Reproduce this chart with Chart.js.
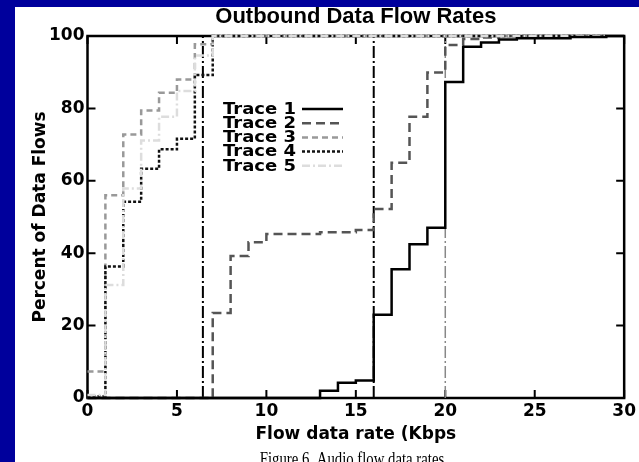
<!DOCTYPE html>
<html><head><meta charset="utf-8">
<script src="https://cdn.jsdelivr.net/npm/chart.js@4"></script>
<style>
html,body{margin:0;padding:0;background:#fff;overflow:hidden;}
canvas{display:block;}
</style></head><body>
<canvas id="c" width="639" height="462"></canvas>
<script>
// ---- text ----
const chartTitle = 'Outbound Data Flow Rates';
const xAxisTitle = 'Flow data rate (Kbps';
const yAxisTitle = 'Percent of Data Flows';
const captionText = 'Figure 6. Audio flow data rates';
const seriesNames = ['Trace 1', 'Trace 2', 'Trace 3', 'Trace 4', 'Trace 5'];

// ---- data (flow rate in Kbps, cumulative percent) ----
const trace1X = [0, 13, 14, 15, 16, 17, 18, 19, 20, 21, 22, 23, 24, 27, 29, 30];
const trace1Y = [0, 2, 4.2, 4.8, 23, 35.6, 42.5, 47, 87.3, 97, 98.2, 99, 99.4, 99.7, 100, 100];
const trace2X = [0, 7, 8, 9, 10, 13, 15, 16, 17, 18, 19, 20, 21, 22, 23, 29];
const trace2Y = [0, 23.5, 39.2, 43, 45.3, 45.8, 46.4, 52.2, 65, 77.7, 89.9, 97.5, 99.2, 99.6, 100, 100];
const trace3X = [0, 1, 2, 3, 4, 5, 6, 7, 29];
const trace3Y = [7.3, 56, 72.8, 79.4, 84.3, 88, 97.7, 100, 100];
const trace4X = [0, 1, 2, 3, 4, 5, 6, 7, 29];
const trace4Y = [0.5, 36.3, 54.2, 63.3, 68.7, 71.6, 89.2, 100, 100];
const trace5X = [0, 1, 2, 3, 4, 5, 6, 7, 29];
const trace5Y = [0.8, 31.2, 57.9, 71.1, 77.7, 84.8, 94.6, 100, 100];
// vertical reference lines across the full range
const refLineX = [6.45, 16, 20];
const refLineSpan = [0, 100];

// ---- ticks ----
const xTickValues = [0, 5, 10, 15, 20, 25, 30];
const yTickValues = [0, 20, 40, 60, 80, 100];

// ---- styles ----
const seriesColors = ['#000000', '#555555', '#999999', '#111111', '#dddddd'];
const seriesDashes = [[], [9, 5], [6, 4], [3, 2], [8, 3, 2, 3]];
const refColors = ['#000000', '#000000', '#888888'];
const refWidths = [2, 2, 1.5];
const BLUE = '#00009c';

const xs = [trace1X, trace2X, trace3X, trace4X, trace5X];
const ys = [trace1Y, trace2Y, trace3Y, trace4Y, trace5Y];
const orders = [1, 5, 4, 3, 2];

const datasets = seriesNames.map((name, i) => ({
  label: name,
  data: xs[i].map((x, k) => ({x: x, y: ys[i][k]})),
  borderColor: seriesColors[i],
  borderDash: seriesDashes[i],
  borderWidth: 2.5,
  stepped: true,
  pointRadius: 0,
  fill: false,
  clip: false,
  order: orders[i]
}));
refLineX.forEach((v, i) => {
  datasets.push({
    label: 'ref' + i,
    data: refLineSpan.map(y => ({x: v, y: y})),
    borderColor: refColors[i],
    borderDash: [12, 3, 2, 3],
    borderWidth: refWidths[i],
    pointRadius: 0,
    fill: false,
    clip: false,
    order: 6 + i
  });
});

const TICK_FONT = {family: '"DejaVu Sans"', size: 17, weight: 'bold'};

const framePlugin = {
  id: 'frame',
  beforeDraw(chart) {
    const ctx = chart.ctx;
    ctx.save();
    ctx.fillStyle = '#ffffff';
    ctx.fillRect(0, 0, chart.width, chart.height);
    ctx.fillStyle = BLUE;
    ctx.fillRect(0, 0, chart.width, 7);
    ctx.fillRect(0, 0, 15, chart.height);
    ctx.restore();
  },
  beforeDatasetsDraw(chart) {
    const ctx = chart.ctx;
    const a = chart.chartArea;
    const xS = chart.scales.x, yS = chart.scales.y;
    ctx.save();
    ctx.strokeStyle = '#000';
    ctx.lineWidth = 2.5;
    ctx.strokeRect(a.left, a.top, a.right - a.left, a.bottom - a.top);
    ctx.lineWidth = 2;
    const L = 8;
    ctx.beginPath();
    xS.ticks.forEach(t => {
      const px = xS.getPixelForValue(t.value);
      ctx.moveTo(px, a.bottom); ctx.lineTo(px, a.bottom - L);
      ctx.moveTo(px, a.top); ctx.lineTo(px, a.top + L);
    });
    yS.ticks.forEach(t => {
      const py = yS.getPixelForValue(t.value);
      ctx.moveTo(a.left, py); ctx.lineTo(a.left + L, py);
      ctx.moveTo(a.right, py); ctx.lineTo(a.right - L, py);
    });
    ctx.stroke();
    ctx.restore();
  },
  afterDraw(chart) {
    const ctx = chart.ctx;
    ctx.save();
    // legend inside plot
    const textRight = 296, lineX0 = 302, lineX1 = 343, row0 = 109, rowStep = 14.2;
    seriesNames.forEach((name, i) => {
      const y = row0 + i * rowStep;
      ctx.save();
      ctx.translate(textRight, y);
      ctx.scale(1.2, 1);
      ctx.font = 'bold 15px "DejaVu Sans"';
      ctx.fillStyle = '#000';
      ctx.textAlign = 'right';
      ctx.textBaseline = 'middle';
      ctx.fillText(name, 0, 1);
      ctx.restore();
      ctx.beginPath();
      ctx.setLineDash(seriesDashes[i]);
      ctx.strokeStyle = seriesColors[i];
      ctx.lineWidth = 2.5;
      ctx.moveTo(lineX0, y); ctx.lineTo(lineX1, y);
      ctx.stroke();
      ctx.setLineDash([]);
    });
    // caption (cut off by the bottom edge, as in the reference)
    ctx.save();
    ctx.translate(352, 465);
    ctx.scale(0.82, 1);
    ctx.font = '18px "Liberation Serif"';
    ctx.fillStyle = '#000';
    ctx.textAlign = 'center';
    ctx.textBaseline = 'alphabetic';
    ctx.fillText(captionText, 0, 0);
    ctx.restore();
    ctx.restore();
  }
};

new Chart(document.getElementById('c'), {
  type: 'line',
  data: {datasets: datasets},
  options: {
    responsive: false,
    animation: false,
    devicePixelRatio: 1,
    layout: {padding: {left: 0, right: 9, top: 0, bottom: 0}},
    plugins: {
      legend: {display: false},
      tooltip: {enabled: false},
      title: {
        display: true,
        text: chartTitle,
        fullSize: false,
        color: '#000',
        font: {family: '"Liberation Sans"', size: 22, weight: 'bold', lineHeight: 1.2},
        padding: {top: 4, bottom: 5.6}
      }
    },
    scales: {
      x: {
        type: 'linear',
        min: 0, max: 30,
        afterBuildTicks: s => { s.ticks = xTickValues.map(v => ({value: v})); },
        afterFit: s => { s.height = 64; },
        grid: {display: false, drawTicks: false},
        border: {display: false},
        ticks: {color: '#000', font: TICK_FONT, padding: 3, maxRotation: 0, autoSkip: false},
        title: {display: true, text: xAxisTitle, color: '#000',
                font: {family: '"DejaVu Sans"', size: 17, weight: 'bold', lineHeight: 1.2},
                padding: {top: 0, bottom: 17}}
      },
      y: {
        type: 'linear',
        min: 0, max: 100,
        afterBuildTicks: s => { s.ticks = yTickValues.map(v => ({value: v})); },
        afterFit: s => { s.width = 87.5; },
        grid: {display: false, drawTicks: false},
        border: {display: false},
        ticks: {color: '#000', font: TICK_FONT, padding: 3},
        title: {display: true, text: yAxisTitle, color: '#000',
                font: {family: '"DejaVu Sans"', size: 17, weight: 'bold', lineHeight: 1.2},
                padding: {top: 30, bottom: 0}}
      }
    }
  },
  plugins: [framePlugin]
});
</script>
</body></html>
